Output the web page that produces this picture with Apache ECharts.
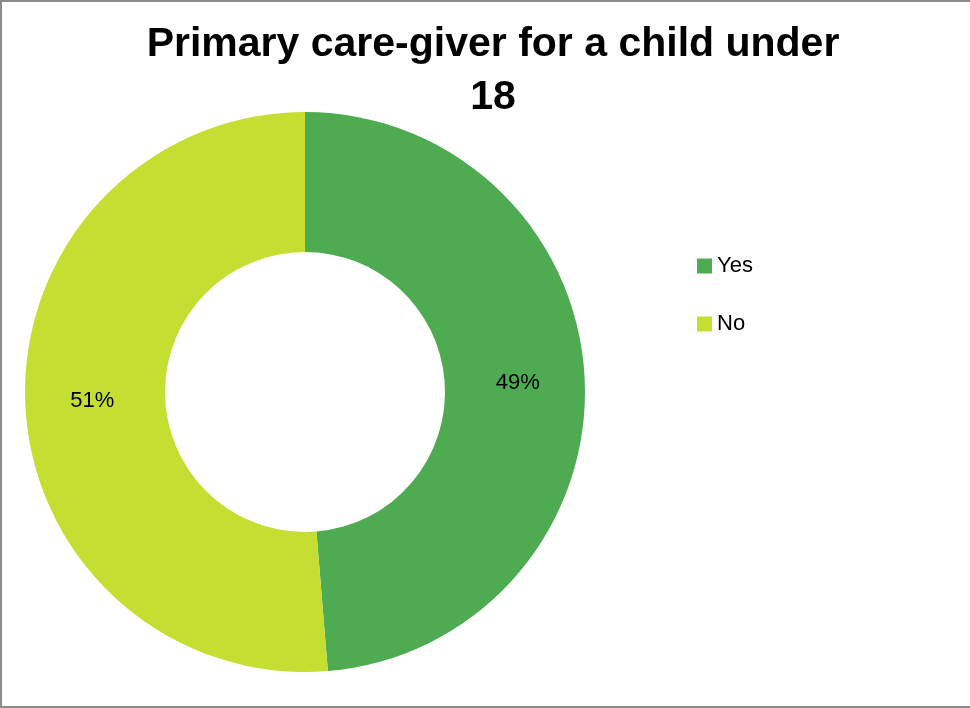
<!DOCTYPE html>
<html><head><meta charset="utf-8">
<script src="https://cdn.jsdelivr.net/npm/echarts@6/dist/echarts.min.js"></script>
<style>html,body{margin:0;padding:0;background:#fff}#c{width:970px;height:708px}</style>
</head><body><div id="c"></div>
<script>
const titleText = 'Primary care-giver for a child under\n18';
const categories = ['Yes', 'No'];
const values = [48.7, 51.3];
const colors = ['#4FAB52', '#C4DF31'];

const chart = echarts.init(document.getElementById('c'));
chart.setOption({
  animation: false,
  backgroundColor: '#fff',
  title: {
    text: titleText, left: 488, top: 13, textAlign: 'center',
    textStyle: { fontFamily: 'Liberation Sans', fontWeight: 'bold', fontSize: 41, lineHeight: 53, color: '#000' }
  },
  legend: {
    orient: 'vertical', left: 692, top: 250, itemWidth: 15, itemHeight: 15, itemGap: 36,
    icon: 'rect',
    data: categories,
    textStyle: { fontFamily: 'Liberation Sans', fontSize: 22, color: '#000' }
  },
  graphic: [{
    type: 'rect', shape: { x: 1, y: 1, width: 980, height: 706 },
    style: { fill: null, stroke: '#8c8c8c', lineWidth: 2 }, silent: true
  }],
  series: [{
    type: 'pie', center: [305, 392], radius: [140, 280], startAngle: 90, clockwise: true,
    itemStyle: { borderWidth: 0 },
    label: {
      position: 'inside', color: '#000', fontFamily: 'Liberation Sans', fontSize: 22,
      formatter: p => Math.round(p.value) + '%'
    },
    labelLine: { show: false },
    data: categories.map((c, i) => ({ name: c, value: values[i], itemStyle: { color: colors[i] } }))
  }]
});
</script></body></html>
